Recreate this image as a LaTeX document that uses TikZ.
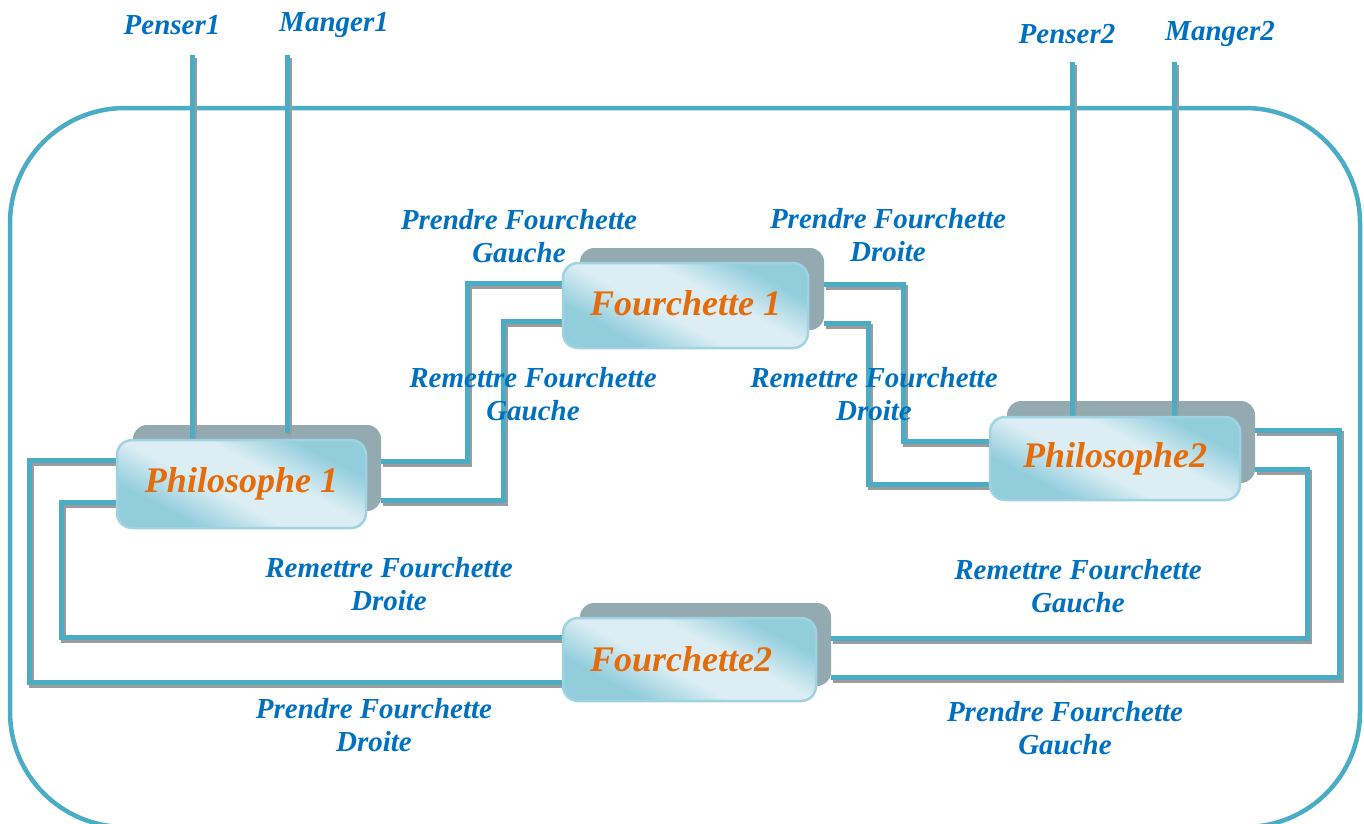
\documentclass[tikz,border=0pt]{standalone}
\usepackage{fontspec}
\setmainfont{Liberation Serif}
\usetikzlibrary{calc}

\definecolor{wireteal}{HTML}{4BACC6}
\definecolor{wireshadow}{HTML}{9C9C9C}
\definecolor{lblblue}{HTML}{0070C0}
\definecolor{titleorange}{HTML}{E46C0A}
\definecolor{backgrey}{HTML}{92AAB0}
\definecolor{boxdark}{HTML}{92CDDC}
\definecolor{boxlight}{HTML}{DCEEF4}
\definecolor{boxrim}{HTML}{9FD3E2}

\pgfdeclarehorizontalshading{glassy}{100bp}{%
  color(0bp)=(boxdark); color(30bp)=(boxdark); color(44bp)=(boxlight);
  color(58bp)=(boxlight); color(72bp)=(boxdark); color(100bp)=(boxdark)}

\tikzset{
  wire/.style={draw=wireteal, line width=5pt,
    preaction={draw=wireshadow, line width=5pt,
      transform canvas={shift={(2pt,-3pt)}}}},
  frame/.style={draw=wireteal, line width=4.5pt, rounded corners=115pt},
  backbox/.style={fill=backgrey, draw=none, rounded corners=14pt,
    inner sep=0pt},
  frontbox/.style={shading=glassy, shading angle=62, draw=boxrim,
    line width=2.5pt, rounded corners=15pt, inner sep=0pt,
    text=titleorange, font=\bfseries\itshape\fontsize{36}{40}\selectfont},
  lbl/.style={text=lblblue, inner sep=0pt, align=center,
    font=\bfseries\itshape\fontsize{29}{33}\selectfont},
}

\begin{document}
\begin{tikzpicture}[x=1pt, y=-1pt]
\useasboundingbox (0,0) rectangle (1364,823);

% outer system frame
\draw[frame] (10,108) rectangle (1360,827);

% rear plates of the four blocks
\node[backbox, minimum width=248pt, minimum height=86pt] (p1b) at (257,468) {};
\node[backbox, minimum width=244pt, minimum height=82pt] (f1b) at (702,289) {};
\node[backbox, minimum width=248pt, minimum height=82pt] (p2b) at (1131,442) {};
\node[backbox, minimum width=251pt, minimum height=83pt] (f2b) at (705.5,644.5) {};

% front plates (positions fixed first, drawn later on top of the wires)
\path (241.5,484) coordinate (p1c) (685.5,305.5) coordinate (f1c)
      (1115,458.5) coordinate (p2c) (689.5,659.5) coordinate (f2c);

% external ports
\node[lbl] (tpen1) at (172,25) {Penser1};
\node[lbl] (tman1) at (334,25) {Manger1};
\node[lbl] (tpen2) at (1067,34) {Penser2};
\node[lbl] (tman2) at (1220,34) {Manger2};
\coordinate (pen1) at (192,55);
\coordinate (man1) at (287,55);
\coordinate (pen2) at (1072,62);
\coordinate (man2) at (1174,62);

\draw[wire] (pen1) -- (192,440);
\draw[wire] (man1) -- (287,433);
\draw[wire] (pen2) -- (1072,418);
\draw[wire] (man2) -- (1174,418);

% Philosophe 1 <-> Fourchette 1
\draw[wire] (p1b.east |- 0,461) -| (467,283) -- (563,283);
\draw[wire] (p1b.east |- 0,500) -| (503,321) -- (563,321);
% Fourchette 1 <-> Philosophe 2
\draw[wire] (f1b.east |- 0,284) -| (903,441) -- (990,441);
\draw[wire] (f1b.east |- 0,323) -| (868,484) -- (990,484);
% Philosophe 2 <-> Fourchette 2
\draw[wire] (p2b.east |- 0,430) -| (1339,677) -- (f2b.east |- 0,677);
\draw[wire] (p2b.east |- 0,469) -| (1307,638) -- (f2b.east |- 0,638);
% Philosophe 1 <-> Fourchette 2
\draw[wire] (117,460) -| (29,682) -- (563,682);
\draw[wire] (117,502) -| (61,637) -- (563,637);

% front plates
\node[frontbox, minimum width=249pt, minimum height=88pt] (p1) at (p1c)
  {\raisebox{4pt}{Philosophe 1}};
\node[frontbox, minimum width=245pt, minimum height=85pt] (f1) at (f1c)
  {\raisebox{4pt}{Fourchette 1}};
\node[frontbox, minimum width=250pt, minimum height=83pt] (p2) at (p2c)
  {\raisebox{2pt}{Philosophe2}};
\node[frontbox, minimum width=253pt, minimum height=83pt] (f2) at (f2c)
  {\raisebox{2pt}{\hspace*{-17pt}Fourchette2}};

% action labels
\node[lbl] at (519,236) {Prendre Fourchette\\Gauche};
\node[lbl] at (888,235) {Prendre Fourchette\\Droite};
\node[lbl] at (533,394) {Remettre Fourchette\\Gauche};
\node[lbl] at (874,394) {Remettre Fourchette\\Droite};
\node[lbl] at (389,584) {Remettre Fourchette\\Droite};
\node[lbl] at (1078,586) {Remettre Fourchette\\Gauche};
\node[lbl] at (374,725) {Prendre Fourchette\\Droite};
\node[lbl] at (1065,728) {Prendre Fourchette\\Gauche};
\end{tikzpicture}
\end{document}
